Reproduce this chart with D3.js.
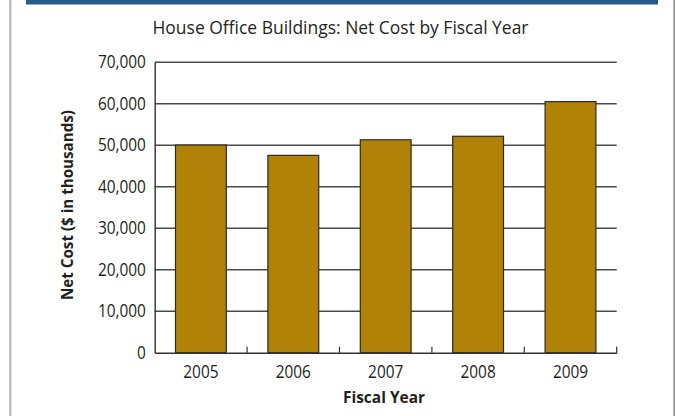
<!DOCTYPE html>
<html>
<head>
<meta charset="utf-8">
<script src="https://cdn.jsdelivr.net/npm/d3@7"></script>
<style>
  html, body { margin: 0; padding: 0; background: #fff; }
  svg { display: block; font-family: "Open Sans", Lato, sans-serif; }
</style>
</head>
<body>
<svg id="chart" width="675" height="416"></svg>
<script>
// Net cost of the House Office Buildings, in thousands of dollars
const years = ["2005", "2006", "2007", "2008", "2009"];
const netCost = [50050, 47550, 51300, 52150, 60500];
const yTicks = [0, 10000, 20000, 30000, 40000, 50000, 60000, 70000];

const titleText = "House Office Buildings: Net Cost by Fiscal Year";
const xTitle = "Fiscal Year";
const yTitle = "Net Cost ($ in thousands)";

const svg = d3.select("#chart");
const W = 675, H = 416;
const plot = { left: 154.7, right: 616.7, top: 62.2, bottom: 352.7 };
const ink = "#231f20";
const narrow = "scale(0.88,1)";

// page frame: side rules and the blue band across the top
svg.append("rect").attr("x", 9).attr("y", 0).attr("width", 2.5).attr("height", H).attr("fill", "#bdbdbd");
svg.append("rect").attr("x", 673.5).attr("y", 0).attr("width", 1.2).attr("height", H).attr("fill", "#6a6a6a");
svg.append("rect").attr("x", 26).attr("y", 0).attr("width", 632).attr("height", 4.5).attr("fill", "#295a8b");

const x = d3.scaleBand().domain(years).range([plot.left, plot.right]).paddingInner(0.45).paddingOuter(0.225);
const y = d3.scaleLinear().domain([0, 70000]).range([plot.bottom, plot.top]);

// horizontal gridlines
svg.append("g")
  .selectAll("line")
  .data(yTicks.filter(d => d > 0))
  .join("line")
  .attr("x1", plot.left).attr("x2", plot.right)
  .attr("y1", d => y(d)).attr("y2", d => y(d))
  .attr("stroke", "#4a4a4a").attr("stroke-width", 1.4);

// bars
svg.append("g")
  .selectAll("rect")
  .data(years.map((yr, i) => ({ yr, v: netCost[i] })))
  .join("rect")
  .attr("x", d => x(d.yr))
  .attr("y", d => y(d.v))
  .attr("width", x.bandwidth())
  .attr("height", d => y(0) - y(d.v))
  .attr("fill", "#b08308")
  .attr("stroke", "#2e2a22").attr("stroke-width", 1.2);

// y axis: line plus labels, no outer ticks
const yAxis = svg.append("g")
  .attr("transform", `translate(${plot.left},0)`)
  .call(d3.axisLeft(y).tickValues(yTicks).tickSize(0).tickPadding(10).tickFormat(d3.format(",")));
yAxis.select(".domain").attr("stroke", "#333").attr("stroke-width", 1.4);
yAxis.selectAll("text")
  .attr("font-size", 17.5).attr("fill", ink).attr("font-family", "'Open Sans', sans-serif")
  .attr("transform", narrow);

// x axis: baseline plus year labels
const xAxis = svg.append("g")
  .attr("transform", `translate(0,${plot.bottom})`)
  .call(d3.axisBottom(x).tickSize(0).tickPadding(13));
xAxis.select(".domain").attr("stroke", "#333").attr("stroke-width", 1.4);
xAxis.selectAll("text")
  .attr("font-size", 17.5).attr("fill", ink).attr("font-family", "'Open Sans', sans-serif")
  .attr("transform", narrow);

// short upward ticks at the category boundaries
const step = x.step();
const bounds = d3.range(1, years.length + 1).map(i => plot.left + i * step);
svg.append("g")
  .selectAll("line")
  .data(bounds)
  .join("line")
  .attr("x1", d => d).attr("x2", d => d)
  .attr("y1", plot.bottom).attr("y2", plot.bottom - 6)
  .attr("stroke", "#333").attr("stroke-width", 1.2);

// titles
svg.append("text")
  .attr("x", 340.5).attr("y", 34)
  .attr("text-anchor", "middle")
  .attr("font-size", 19).attr("fill", ink)
  .attr("textLength", 376).attr("lengthAdjust", "spacingAndGlyphs")
  .text(titleText);

svg.append("text")
  .attr("x", 384).attr("y", 403)
  .attr("text-anchor", "middle")
  .attr("font-size", 16.5).attr("font-weight", "bold").attr("fill", ink)
  .attr("textLength", 82).attr("lengthAdjust", "spacingAndGlyphs")
  .text(xTitle);

svg.append("text")
  .attr("transform", `translate(73,205) rotate(-90)`)
  .attr("text-anchor", "middle")
  .attr("font-size", 16.5).attr("font-weight", "bold").attr("fill", ink)
  .attr("textLength", 190).attr("lengthAdjust", "spacingAndGlyphs")
  .text(yTitle);
</script>
</body>
</html>
